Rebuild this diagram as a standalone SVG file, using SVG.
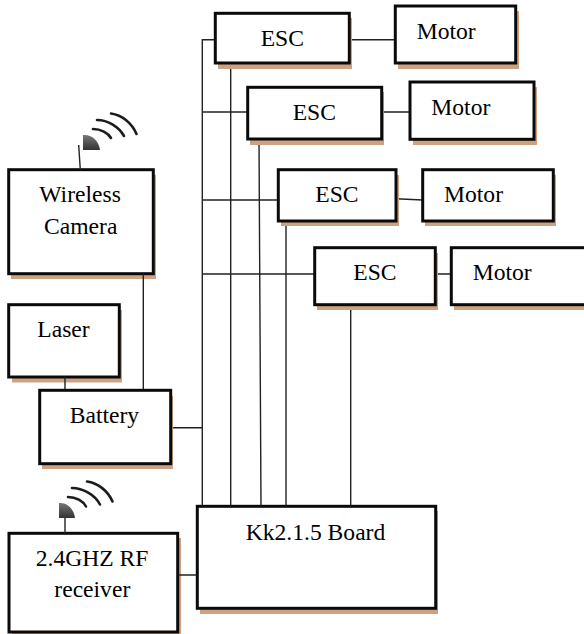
<svg xmlns="http://www.w3.org/2000/svg" width="584" height="634" viewBox="0 0 584 634">
<style>
.b{fill:#fff;stroke:#0a0a0a;stroke-width:3}
.s{fill:#cca283}
.c{fill:none;stroke:#222;stroke-width:1.4}
.a{fill:none;stroke:#1c1c1c;stroke-width:2.6;stroke-linecap:round}
.d{fill:url(#dish)}
text{font-family:"Liberation Serif","Times New Roman",serif;font-size:23.6px;fill:#000}
</style>
<defs><linearGradient id="dish" x1="0" y1="0" x2="0" y2="1"><stop offset="0" stop-color="#777"/><stop offset="1" stop-color="#333"/></linearGradient></defs>
<rect width="584" height="634" fill="#fff"/>
<g id="camera"><rect class="s" x="11" y="175" width="145" height="104"/><rect class="b" x="8.700" y="169.700" width="144.600" height="104"/><text x="39.300" y="201.700">Wireless</text><text x="44" y="234">Camera</text></g>
<g id="laser"><rect class="s" x="12" y="310" width="110" height="72.500"/><rect class="b" x="8.700" y="304.700" width="110.600" height="72.300"/><text x="37.300" y="337">Laser</text></g>
<g id="rf"><rect class="s" x="12" y="538" width="169" height="96"/><rect class="b" x="9" y="533.300" width="168.700" height="98.700"/><text x="35.700" y="566">2.4GHZ RF</text><text x="54.300" y="597.300">receiver</text></g>
<g id="board"><rect class="s" x="200" y="511" width="238" height="103"/><rect class="b" x="197.300" y="506.300" width="238.400" height="102"/><text x="245.700" y="540">Kk2.1.5 Board</text></g>
<g id="connectors">
<path class="c" d="M215.300 39.700H202.300V506.300M202.300 112H247.700M202.300 200H278.300M202.300 274H314.700M170.700 427.700H202.300M230.700 63V506.300M259 139L261 506.300M286 221V506.300M350.700 304.700V506.300M349.300 39.700H395.300M381.700 112H410M396 198.700L422.700 200M435.300 274H451.300M143.300 273.700V390.300M65 377V390.300M177.700 575H197.300M78.700 145L80.300 169.700M65 516.700V533.300"/>
</g>
<g id="camera-antenna"><path class="d" d="M83 135C92 134 99 141 100 150H83Z"/><path class="a" d="M93 129C101 129 108 133 111 138M97 120C108 120 119 127 124 136M111 113.500C122 115 132 123 136.500 134"/></g>
<g id="rf-antenna"><path class="d" d="M59 503C67 502 74 509 75 518H59Z"/><path class="a" d="M68 497C76 497 83 501 86 506.500M72 488C83 488 95 495 100 504.500M87 481.500C98 483 108 491 112.500 501.500"/></g>
<g id="battery"><rect class="s" x="42" y="396" width="131" height="73"/><rect class="b" x="39.700" y="390.300" width="131" height="73.400"/><text x="69.700" y="422.700">Battery</text></g>
<g id="esc1"><rect class="s" x="218" y="18" width="134" height="51"/><rect class="b" x="215.300" y="13.300" width="134" height="49.700"/><text x="260.700" y="46">ESC</text></g>
<g id="motor1"><rect class="s" x="398" y="11" width="121" height="58"/><rect class="b" x="395.300" y="6" width="120.400" height="57"/><text x="416.700" y="39">Motor</text></g>
<g id="esc2"><rect class="s" x="250" y="92" width="134" height="53"/><rect class="b" x="247.700" y="87.300" width="134" height="51.700"/><text x="292.700" y="120">ESC</text></g>
<g id="motor2"><rect class="s" x="413" y="87" width="124" height="58"/><rect class="b" x="410" y="82" width="124" height="57.300"/><text x="431.300" y="115">Motor</text></g>
<g id="esc3"><rect class="s" x="281" y="175" width="118" height="51"/><rect class="b" x="278.300" y="169.700" width="117.700" height="51.300"/><text x="315.300" y="202">ESC</text></g>
<g id="motor3"><rect class="s" x="425" y="175" width="131" height="51"/><rect class="b" x="422.700" y="169.700" width="130.600" height="51.300"/><text x="444" y="202">Motor</text></g>
<g id="esc4"><rect class="s" x="317" y="253" width="121" height="57"/><rect class="b" x="314.700" y="247.700" width="120.600" height="57"/><text x="353.300" y="280">ESC</text></g>
<g id="motor4"><rect class="s" x="454" y="253" width="140" height="57"/><rect class="b" x="451.300" y="247.700" width="140" height="57"/><text x="472.700" y="280">Motor</text></g>
</svg>
